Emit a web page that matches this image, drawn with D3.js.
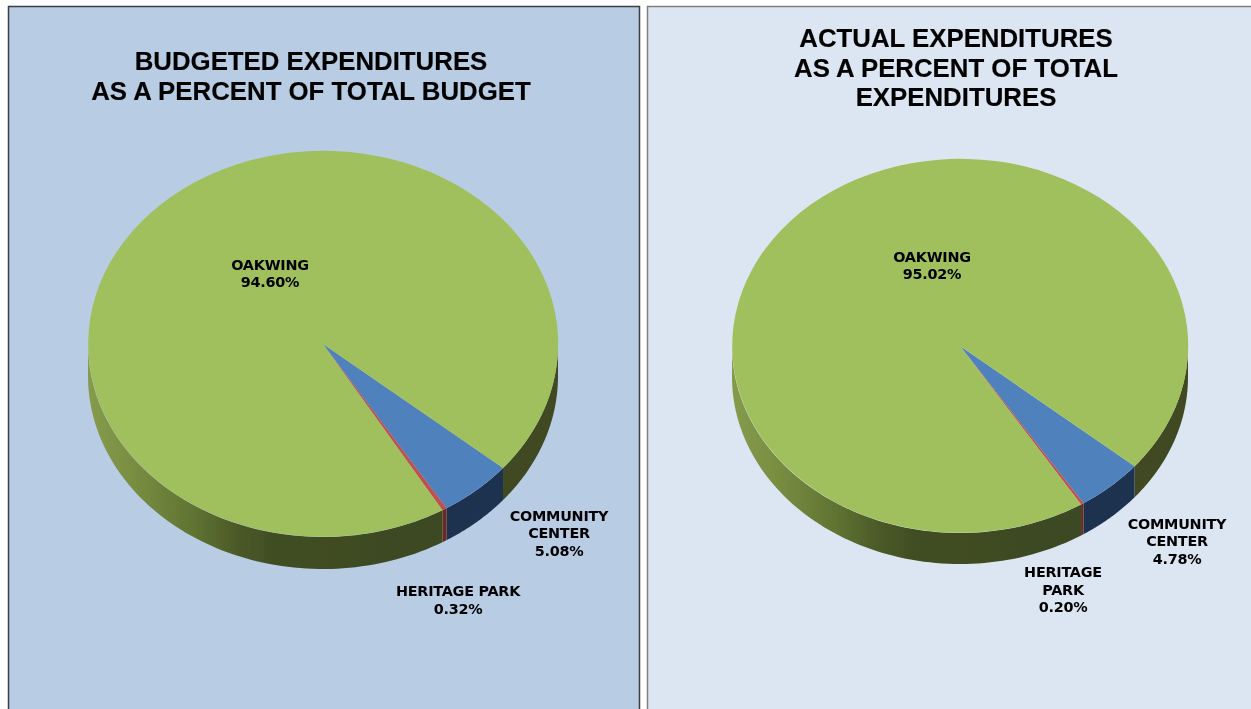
<!DOCTYPE html>
<html><head><meta charset="utf-8">
<script src="https://cdnjs.cloudflare.com/ajax/libs/d3/7.8.5/d3.min.js"></script>
<style>html,body{margin:0;padding:0;background:#fff;overflow:hidden}svg{display:block}
.t{font-family:"Liberation Sans",Arial,sans-serif;font-weight:700;font-size:25.8px;fill:#000;text-anchor:middle;stroke:#000;stroke-width:.15px}
.l{font-family:"DejaVu Sans",Verdana,sans-serif;font-weight:700;font-size:14.4px;letter-spacing:-.25px;fill:#000;text-anchor:middle}
</style></head><body><svg id="c" width="1251" height="709"></svg>
<script>
const categories = ["COMMUNITY CENTER", "HERITAGE PARK", "OAKWING"];
const budgetedValues = [5.08, 0.32, 94.60];
const actualValues = [4.78, 0.20, 95.02];
const budgetedTitle = ["BUDGETED EXPENDITURES", "AS A PERCENT OF TOTAL BUDGET"];
const actualTitle = ["ACTUAL EXPENDITURES", "AS A PERCENT OF TOTAL", "EXPENDITURES"];
const budgetedLabels = [["COMMUNITY","CENTER","5.08%"],["HERITAGE PARK","0.32%"],["OAKWING","94.60%"]];
const actualLabels = [["COMMUNITY","CENTER","4.78%"],["HERITAGE","PARK","0.20%"],["OAKWING","95.02%"]];
const topColors = ["#4f81bd", "#c0504d", "#9fc05c"];
const wallColors = ["#1d3150", "#6b2a22", null];

const svg = d3.select("#c");
const defs = svg.append("defs");
defs.append("filter").attr("id","soft").append("feGaussianBlur").attr("stdDeviation",0.45);
const g = defs.append("linearGradient").attr("id","greenWall").attr("gradientUnits","objectBoundingBox");
[[0,"#859b4b"],[0.12,"#7a8f42"],[0.3,"#5f7332"],[0.42,"#4b5a28"],[0.52,"#414e23"],[1,"#3c4820"]]
  .forEach(([o,c])=>g.append("stop").attr("offset",o).attr("stop-color",c));

function panel(o){
  const root = svg.append("g");
  root.append("rect").attr("x",o.x+.5).attr("y",o.y+.5).attr("width",o.w).attr("height",o.h)
    .attr("fill",o.bg).attr("stroke",o.border).attr("stroke-width",1.5);
  const art = root.append("g").attr("filter","url(#soft)");
  const start = o.startDeg*Math.PI/180;
  const arcs = d3.pie().sort(null).startAngle(start).endAngle(start+2*Math.PI)(o.values);
  const sx = d3.scaleLinear().domain([-1,1]).range([o.cx-o.rx,o.cx+o.rx]);
  const sy = d3.scaleLinear().domain([-1,1]).range([o.cy-o.ry,o.cy+o.ry]);
  const wall = (lo,hi,fill)=>{
    if(hi<=lo) return;
    const pts=d3.range(0,81).map(k=>lo+(hi-lo)*k/80);
    const top=pts.map(t=>[sx(Math.sin(t)),sy(-Math.cos(t))]);
    const bot=pts.slice().reverse().map(t=>[sx(Math.sin(t)),sy(-Math.cos(t))+o.depth]);
    art.append("path").attr("d",d3.line()(top.concat(bot))+"Z").attr("fill",fill);
  };
  arcs.forEach((a,i)=>{
    // the front half of the rim, also where a slice wraps past 360 degrees
    wall(Math.max(a.startAngle,Math.PI/2),Math.min(a.endAngle,3*Math.PI/2),wallColors[i]||"url(#greenWall)");
    wall(Math.max(a.startAngle-2*Math.PI,Math.PI/2),Math.min(a.endAngle-2*Math.PI,3*Math.PI/2),"#3f4a22");
  });
  const arc=d3.arc().innerRadius(0).outerRadius(1);
  art.append("g").attr("transform",`translate(${o.cx},${o.cy}) scale(${o.rx},${o.ry})`)
    .selectAll("path").data(arcs).join("path").attr("d",arc)
    .attr("fill",(d,i)=>topColors[i]);
  const txt = root.append("g").attr("filter","url(#soft)");
  o.title.forEach((s,i)=>txt.append("text").attr("class","t")
    .attr("x",o.titleX).attr("y",o.titleY+i*o.titleGap).text(s));
  o.labels.forEach((ls,i)=>ls.forEach((s,j)=>txt.append("text").attr("class","l")
    .attr("x",o.labelPos[i][0]).attr("y",o.labelPos[i][1]+j*17.5).text(s)));
}
panel({x:8,y:6,w:631,h:720,bg:"#b8cce4",border:"#3a3f46",cx:323,cy:344,rx:235,ry:193,depth:32,startDeg:130,
  values:budgetedValues,title:budgetedTitle,titleX:311,titleY:70,titleGap:29.5,labels:budgetedLabels,
  labelPos:[[559,520.5],[458,596],[270,269.5]]});
panel({x:647,y:6,w:620,h:720,bg:"#dce6f2",border:"#7f7f7f",cx:960,cy:346,rx:228,ry:187,depth:31,startDeg:130,
  values:actualValues,title:actualTitle,titleX:956,titleY:47,titleGap:29.5,labels:actualLabels,
  labelPos:[[1177,528.5],[1063,577],[932,261.5]]});
</script></body></html>
